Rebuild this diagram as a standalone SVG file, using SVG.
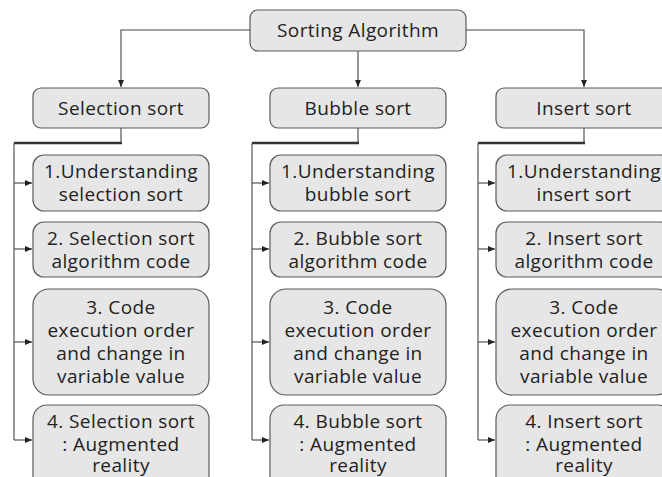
<svg xmlns="http://www.w3.org/2000/svg" width="662" height="477" viewBox="0 0 662 477">
<style>
.box{fill:#e6e6e6;stroke:#5a5a5a;stroke-width:1.2}
text{font-family:"Open Sans","Noto Sans",sans-serif;font-size:19px;letter-spacing:0.4px;fill:#222;text-anchor:middle}
.ln{fill:none;stroke:#444;stroke-width:1.1}
.thick{fill:none;stroke:#333;stroke-width:2.6}
</style>
<defs>
<marker id="ah" markerUnits="userSpaceOnUse" markerWidth="8" markerHeight="8" refX="7" refY="4" orient="auto">
<path d="M0,1 L7,4 L0,7 Z" fill="#222"/>
</marker>
</defs>
<rect width="662" height="477" fill="#fff"/>
<g id="connectors">
<path class="ln" d="M250,30 H121 V87" marker-end="url(#ah)"/>
<path class="ln" d="M466,30 H584 V87" marker-end="url(#ah)"/>
<path class="ln" d="M358,51 V87" marker-end="url(#ah)"/>
<path class="ln" d="M121,128 V143"/>
<path class="thick" d="M122,143 H14"/>
<path class="ln" d="M14,143 V440"/>
<path class="ln" d="M14,183 H32" marker-end="url(#ah)"/>
<path class="ln" d="M14,249 H32" marker-end="url(#ah)"/>
<path class="ln" d="M14,342 H32" marker-end="url(#ah)"/>
<path class="ln" d="M14,440 H32" marker-end="url(#ah)"/>
<path class="ln" d="M358,128 V143"/>
<path class="thick" d="M359,143 H252"/>
<path class="ln" d="M252,143 V440"/>
<path class="ln" d="M252,183 H269" marker-end="url(#ah)"/>
<path class="ln" d="M252,249 H269" marker-end="url(#ah)"/>
<path class="ln" d="M252,342 H269" marker-end="url(#ah)"/>
<path class="ln" d="M252,440 H269" marker-end="url(#ah)"/>
<path class="ln" d="M584,128 V143"/>
<path class="thick" d="M585,143 H478"/>
<path class="ln" d="M478,143 V440"/>
<path class="ln" d="M478,183 H495" marker-end="url(#ah)"/>
<path class="ln" d="M478,249 H495" marker-end="url(#ah)"/>
<path class="ln" d="M478,342 H495" marker-end="url(#ah)"/>
<path class="ln" d="M478,440 H495" marker-end="url(#ah)"/>
</g>
<g id="root"><rect class="box" x="250" y="10" width="216" height="41" rx="8"/><text x="358" y="37">Sorting Algorithm</text></g>
<g id="selection"><rect class="box" x="33" y="88" width="176" height="40" rx="8"/><text x="121" y="114.5">Selection sort</text></g>
<g id="bubble"><rect class="box" x="270" y="88" width="176" height="40" rx="8"/><text x="358" y="114.5">Bubble sort</text></g>
<g id="insert"><rect class="box" x="496" y="88" width="176" height="40" rx="8"/><text x="584" y="114.5">Insert sort</text></g>

<g id="sel1"><rect class="box" x="33" y="155" width="176" height="56" rx="11"/><text x="121" y="178">1.Understanding</text><text x="121" y="201">selection sort</text></g>
<g id="sel2"><rect class="box" x="33" y="222" width="176" height="55" rx="11"/><text x="121" y="244.5">2. Selection sort</text><text x="121" y="267.5">algorithm code</text></g>
<g id="sel3"><rect class="box" x="33" y="289" width="176" height="106" rx="16"/><text x="121" y="314">3. Code</text><text x="121" y="337">execution order</text><text x="121" y="360">and change in</text><text x="121" y="383">variable value</text></g>
<g id="sel4"><rect class="box" x="33" y="405" width="176" height="90" rx="14"/><text x="121" y="428">4. Selection sort</text><text x="121" y="450.5">: Augmented</text><text x="121" y="472">reality</text></g>

<g id="bub1"><rect class="box" x="270" y="155" width="176" height="56" rx="11"/><text x="358" y="178">1.Understanding</text><text x="358" y="201">bubble sort</text></g>
<g id="bub2"><rect class="box" x="270" y="222" width="176" height="55" rx="11"/><text x="358" y="244.5">2. Bubble sort</text><text x="358" y="267.5">algorithm code</text></g>
<g id="bub3"><rect class="box" x="270" y="289" width="176" height="106" rx="16"/><text x="358" y="314">3. Code</text><text x="358" y="337">execution order</text><text x="358" y="360">and change in</text><text x="358" y="383">variable value</text></g>
<g id="bub4"><rect class="box" x="270" y="405" width="176" height="90" rx="14"/><text x="358" y="428">4. Bubble sort</text><text x="358" y="450.5">: Augmented</text><text x="358" y="472">reality</text></g>

<g id="ins1"><rect class="box" x="496" y="155" width="176" height="56" rx="11"/><text x="584" y="178">1.Understanding</text><text x="584" y="201">insert sort</text></g>
<g id="ins2"><rect class="box" x="496" y="222" width="176" height="55" rx="11"/><text x="584" y="244.5">2. Insert sort</text><text x="584" y="267.5">algorithm code</text></g>
<g id="ins3"><rect class="box" x="496" y="289" width="176" height="106" rx="16"/><text x="584" y="314">3. Code</text><text x="584" y="337">execution order</text><text x="584" y="360">and change in</text><text x="584" y="383">variable value</text></g>
<g id="ins4"><rect class="box" x="496" y="405" width="176" height="90" rx="14"/><text x="584" y="428">4. Insert sort</text><text x="584" y="450.5">: Augmented</text><text x="584" y="472">reality</text></g>
</svg>
